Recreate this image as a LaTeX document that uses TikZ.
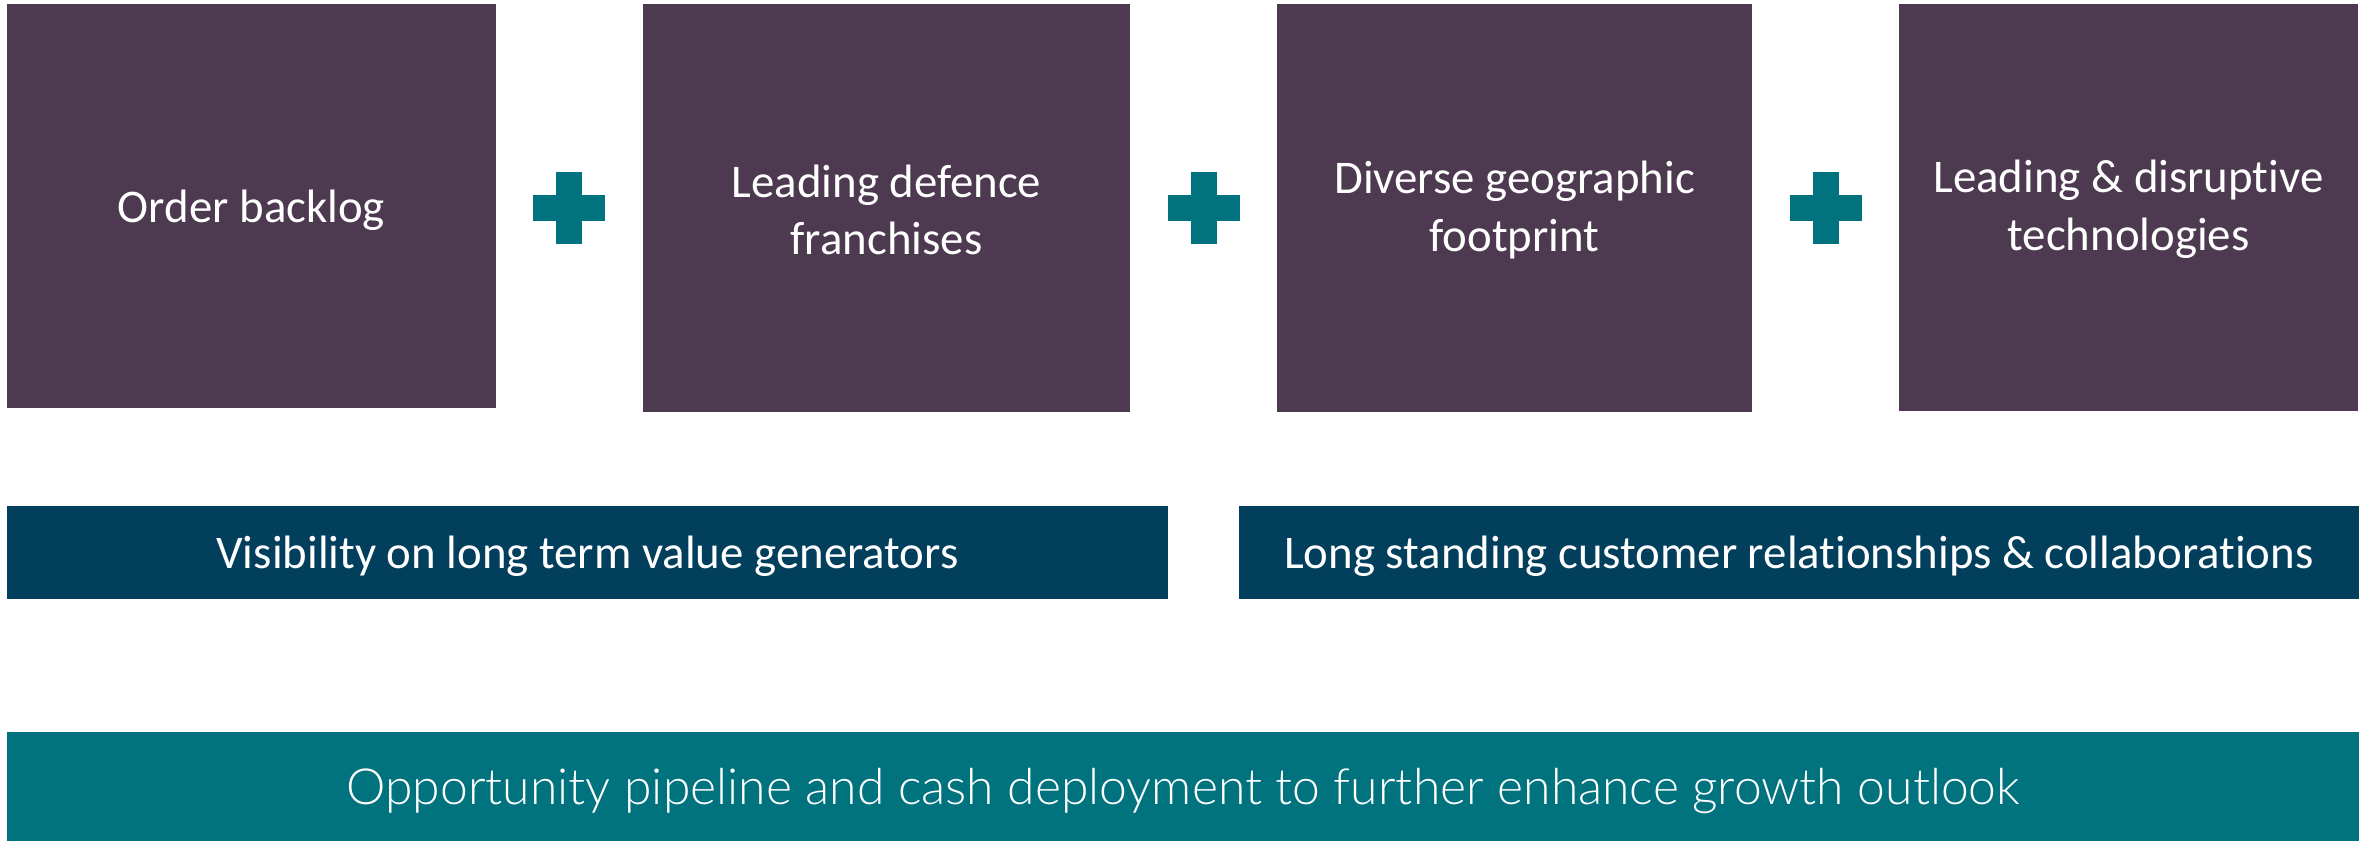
\documentclass[tikz,border=0pt]{standalone}
\usepackage{fontspec}
\setmainfont{Carlito}[Ligatures=NoCommon]
\newfontfamily\thinfont{Lato Light}[Ligatures=NoCommon]
\definecolor{plum}{HTML}{4D3A50}
\definecolor{navy}{HTML}{013F5D}
\definecolor{teal}{HTML}{00737F}
\begin{document}
\begin{tikzpicture}[x=1bp,y=-1bp,
  pillar/.style={fill=plum, draw=none, inner sep=0pt},
  band/.style={fill=navy, draw=none, inner sep=0pt},
  base/.style={fill=teal, draw=none, inner sep=0pt},
  label/.style={text=white, align=center, inner sep=0pt,
    font=\fontsize{47}{58}\selectfont},
  baselabel/.style={text=white, inner sep=0pt,
    font=\thinfont\fontsize{50}{60}\selectfont},
  plus/.pic={
    \fill[teal] (-36,-13) rectangle (36,13);
    \fill[teal] (-13,-36) rectangle (13,36);
  }]
\useasboundingbox (0,0) rectangle (2364,841);

% four pillars
\node[pillar, minimum width=489bp, minimum height=404bp] (p1) at (251.5,206) {};
\node[pillar, minimum width=487bp, minimum height=408bp] (p2) at (886.5,208) {};
\node[pillar, minimum width=475bp, minimum height=408bp] (p3) at (1514.5,208) {};
\node[pillar, minimum width=459bp, minimum height=407bp] (p4) at (2128.5,207.5) {};
\node[label] (t1) at ([yshift=-4bp]p1.center) {Order backlog};
\node[label] (t2) at ([yshift=-2bp]p2.center) {Leading defence\\franchises};
\node[label] (t3) at ([yshift=-2bp]p3.center) {Diverse geographic\\footprint};
\node[label] (t4) at ([yshift=-2bp]p4.center) {Leading \& disruptive\\technologies};

% plus signs between pillars
\pic at (569,208) {plus};
\pic at (1204,208) {plus};
\pic at (1826,208) {plus};

% middle bands
\node[band, minimum width=1161bp, minimum height=93bp] (b1) at (587.5,552.5) {};
\node[band, minimum width=1120bp, minimum height=93bp] (b2) at (1799,552.5) {};
\node[label] (tb1) at ([yshift=-4bp]b1.center) {Visibility on long term value generators};
\node[label] (tb2) at ([yshift=-4bp]b2.center) {Long standing customer relationships \& collaborations};

% bottom band
\node[base, minimum width=2352bp, minimum height=109bp] (g) at (1183,786.5) {};
\node[baselabel] (tg) at ([yshift=-4bp]g.center) {Opportunity pipeline and cash deployment to further enhance growth outlook};
\end{tikzpicture}
\end{document}
